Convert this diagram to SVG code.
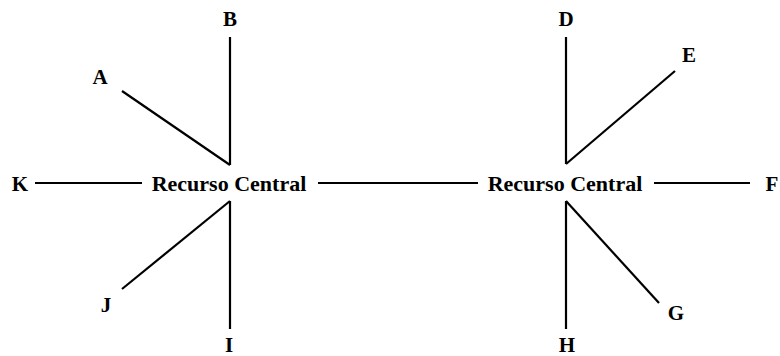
<svg xmlns="http://www.w3.org/2000/svg" width="780" height="356" viewBox="0 0 780 356">
<style>
text{font-family:'Liberation Serif','Times New Roman','DejaVu Serif',serif;font-weight:700;font-size:21px;fill:#000;text-anchor:middle}
.ctr{font-size:22px}
.c line{stroke:#000;stroke-width:2.2;stroke-linecap:butt}
</style>
<rect width="780" height="356" fill="#fff"/>
<g class="c" id="connectors">
<line x1="230" y1="37" x2="230" y2="165"/>
<line x1="122" y1="91" x2="230" y2="165"/>
<line x1="35" y1="183" x2="142" y2="183"/>
<line x1="230" y1="201" x2="122" y2="289"/>
<line x1="230" y1="201" x2="230" y2="329"/>
<line x1="318" y1="183" x2="478" y2="183"/>
<line x1="566" y1="37" x2="566" y2="164"/>
<line x1="566" y1="164" x2="675" y2="71"/>
<line x1="654" y1="183" x2="750" y2="183"/>
<line x1="566" y1="201" x2="659" y2="303"/>
<line x1="566" y1="201" x2="566" y2="329"/>
</g>
<g id="center1"><text class="ctr" x="229" y="191">Recurso Central</text></g>
<g id="center2"><text class="ctr" x="565" y="191">Recurso Central</text></g>
<g id="nA"><text x="100" y="84">A</text></g>
<g id="nB"><text x="230" y="26">B</text></g>
<g id="nD"><text x="566" y="26">D</text></g>
<g id="nE"><text x="689" y="62">E</text></g>
<g id="nF"><text x="772" y="191">F</text></g>
<g id="nG"><text x="676" y="320">G</text></g>
<g id="nH"><text x="567" y="352">H</text></g>
<g id="nI"><text x="229" y="352">I</text></g>
<g id="nJ"><text x="106" y="312">J</text></g>
<g id="nK"><text x="20" y="191">K</text></g>
</svg>
